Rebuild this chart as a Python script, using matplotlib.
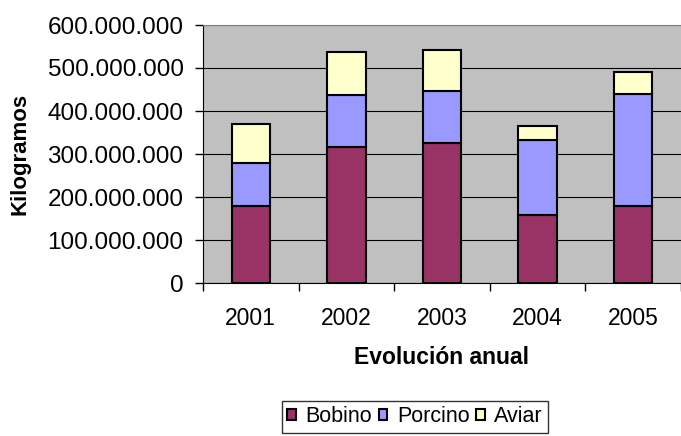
import numpy as np
import matplotlib.pyplot as plt
from matplotlib.ticker import FuncFormatter

plt.rcParams['font.family'] = ['Liberation Sans', 'DejaVu Sans']

years = ['2001', '2002', '2003', '2004', '2005']
bobino = [178e6, 317e6, 325e6, 158e6, 178e6]
porcino = [100e6, 120e6, 121e6, 174e6, 262e6]
aviar = [92e6, 100e6, 96e6, 34e6, 51e6]

fig = plt.figure(figsize=(6.81, 4.36), dpi=100)
ax = fig.add_axes([203/681, 1 - 283/436, 1 - 203/681, 258/436])
ax.set_facecolor('#C0C0C0')

x = np.arange(len(years))
w = 0.4
bot2 = np.array(bobino)
bot3 = bot2 + np.array(porcino)
ax.bar(x, bobino, w, color='#993366', edgecolor='black', linewidth=1.5, label='Bobino', zorder=3)
ax.bar(x, porcino, w, bottom=bot2, color='#9999FF', edgecolor='black', linewidth=1.5, label='Porcino', zorder=3)
ax.bar(x, aviar, w, bottom=bot3, color='#FFFFCC', edgecolor='black', linewidth=1.5, label='Aviar', zorder=3)

ax.set_xlim(-0.5, 4.5)
ax.set_ylim(0, 600e6)
ax.set_yticks(np.arange(0, 600e6 + 1, 100e6))
ax.yaxis.set_major_formatter(FuncFormatter(lambda v, p: '{:,.0f}'.format(v).replace(',', '.')))
ax.yaxis.grid(True, color='black', linewidth=0.8, zorder=0)
ax.set_axisbelow(True)

# category boundaries get the tick marks, year labels sit between them
ax.set_xticks(np.arange(-0.5, 4.6, 1.0), minor=False)
ax.set_xticklabels([])
ax.set_xticks(x, minor=True)
ax.set_xticklabels(years, minor=True)
ax.tick_params(axis='x', which='minor', length=0, labelsize=16.5, pad=17)
ax.tick_params(axis='x', which='major', length=6, direction='out', width=1)
ax.tick_params(axis='y', length=6, direction='out', width=1, labelsize=17.5, pad=8)

ax.spines['right'].set_visible(False)
ax.spines['top'].set_color('#808080')
ax.spines['left'].set_color('black')
ax.spines['bottom'].set_color('black')

ax.set_xlabel('Evolución anual', fontsize=16.5, fontweight='bold')
ax.xaxis.set_label_coords(0.5, -0.245)
ax.set_ylabel('Kilogramos', fontsize=16, fontweight='bold')
ax.yaxis.set_label_coords(-0.36, 0.5)

fig.legend(loc='upper left', bbox_to_anchor=(282/681, 1 - 401/436), ncol=3,
           fontsize=15.5, frameon=True, fancybox=False, edgecolor='black',
           handlelength=0.4, handleheight=0.4, handletextpad=0.45, columnspacing=0.3,
           borderpad=0.25, borderaxespad=0)

fig.savefig('out.png', dpi=100)
